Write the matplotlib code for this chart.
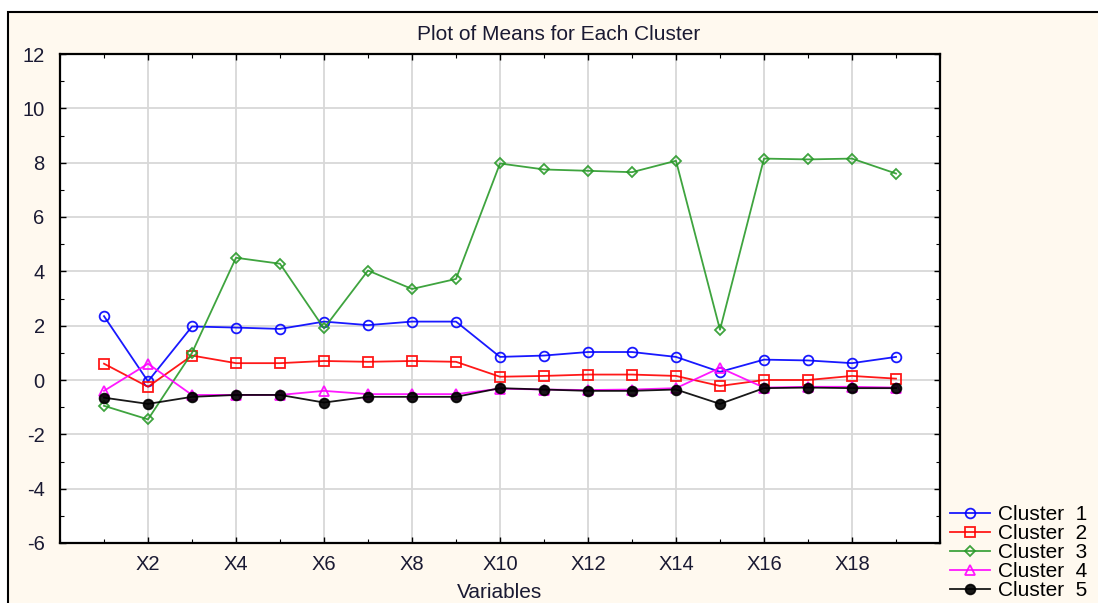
import matplotlib.pyplot as plt
from matplotlib.patches import Rectangle
from matplotlib.ticker import MultipleLocator
import numpy as np

plt.rcParams['font.family'] = ['Liberation Sans', 'DejaVu Sans']
plt.rcParams['axes.unicode_minus'] = False

variables = np.arange(1, 20)
tick_pos = [2, 4, 6, 8, 10, 12, 14, 16, 18]
tick_labels = ['X2', 'X4', 'X6', 'X8', 'X10', 'X12', 'X14', 'X16', 'X18']

cluster1 = [2.35, -0.05, 1.97, 1.93, 1.88, 2.15, 2.02, 2.15, 2.15, 0.85,
            0.9, 1.03, 1.03, 0.85, 0.3, 0.75, 0.72, 0.62, 0.85]
cluster2 = [0.6, -0.25, 0.9, 0.62, 0.62, 0.7, 0.67, 0.7, 0.67, 0.12,
            0.15, 0.2, 0.2, 0.15, -0.22, 0.0, 0.0, 0.15, 0.05]
cluster3 = [-0.95, -1.45, 1.0, 4.5, 4.28, 1.9, 4.03, 3.35, 3.72, 7.97,
            7.75, 7.7, 7.65, 8.07, 1.85, 8.15, 8.12, 8.15, 7.6]
cluster4 = [-0.4, 0.6, -0.55, -0.55, -0.55, -0.4, -0.52, -0.52, -0.52, -0.32,
            -0.35, -0.37, -0.35, -0.3, 0.45, -0.28, -0.25, -0.25, -0.28]
cluster5 = [-0.65, -0.88, -0.62, -0.55, -0.55, -0.83, -0.62, -0.62, -0.62, -0.3,
            -0.35, -0.4, -0.4, -0.35, -0.88, -0.3, -0.28, -0.3, -0.3]

fig = plt.figure(figsize=(10.98, 6.03), dpi=100)
fig.patch.set_facecolor('white')
# cream panel with black frame, behind everything
panel = Rectangle((8 / 1098, -0.01), 1.0, 1.01 - 12 / 603, transform=fig.transFigure,
                  facecolor='#fff9ef', edgecolor='black', linewidth=1.5, zorder=-10)
fig.add_artist(panel)

ax = fig.add_axes([60 / 1098, 1 - 543 / 603, 880 / 1098, 489 / 603])
ax.set_zorder(5)
ax.set_facecolor('white')

styles = [
    (cluster1, 'blue', 'o', 'none'),
    (cluster2, 'red', 's', 'none'),
    (cluster3, '#2a9a2a', 'D', 'none'),
    (cluster4, 'magenta', '^', 'none'),
    (cluster5, 'black', 'o', 'black'),
]
for i, (vals, col, mk, fc) in enumerate(styles):
    ms = 5 if mk == 'D' else 7
    ax.plot(variables, vals, color=col, marker=mk, markersize=ms, markerfacecolor=fc,
            markeredgecolor=col, markeredgewidth=1.3, linewidth=1.3, alpha=0.9,
            label='Cluster  %d' % (i + 1))

ax.set_xlim(0, 20)
ax.set_ylim(-6, 12)
ax.set_xticks(tick_pos)
ax.set_xticklabels(tick_labels)
ax.xaxis.set_minor_locator(MultipleLocator(1))
ax.yaxis.set_major_locator(MultipleLocator(2))
ax.yaxis.set_minor_locator(MultipleLocator(1))
ax.grid(True, which='major', color='#d8d8d8', linewidth=1.3)
ax.set_axisbelow(True)
ax.tick_params(which='both', direction='in', top=True, right=True, labelsize=14.5,
               labelcolor='#1a1a33')
ax.tick_params(axis='x', pad=9)
ax.tick_params(axis='y', pad=11)
ax.tick_params(which='major', length=4, width=1)
ax.tick_params(which='minor', length=3, width=0.8)
for s in ax.spines.values():
    s.set_linewidth(1.6)

fig.text(559 / 1098, 1 - 34 / 603, 'Plot of Means for Each Cluster', fontsize=15,
         ha='center', va='center', color='#1a1a33')
ax.set_xlabel('Variables', fontsize=15, labelpad=6, color='#1a1a33')

ax.legend(loc='lower left', bbox_to_anchor=(950 / 1098, 3 / 603), bbox_transform=fig.transFigure,
          frameon=False, fontsize=15, handlelength=1.9, labelspacing=0.0,
          borderaxespad=0, borderpad=0, handletextpad=0.4)

fig.savefig('out.png', dpi=100, facecolor=fig.get_facecolor())
